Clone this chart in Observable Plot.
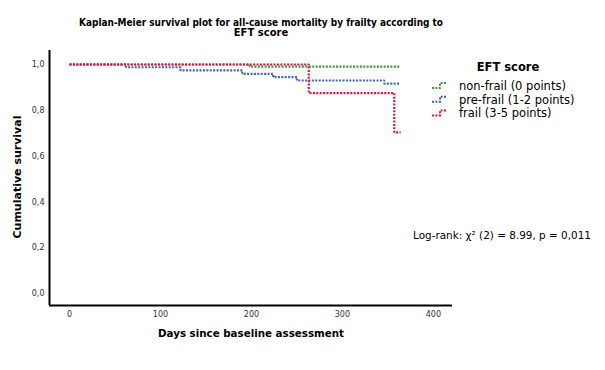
<!DOCTYPE html>
<html><head><meta charset="utf-8">
<script src="https://cdn.jsdelivr.net/npm/d3@7"></script>
<script src="https://cdn.jsdelivr.net/npm/@observablehq/plot@0.6"></script>
<style>body{margin:0;background:#fff} svg{display:block}</style>
</head><body><div id="chart"></div>
<script>
const titleLines = ["Kaplan-Meier survival plot for all-cause mortality by frailty according to", "EFT score"];
const xLabel = "Days since baseline assessment";
const yLabel = "Cumulative survival";
const legendTitle = "EFT score";
const groups = ["non-frail (0 points)", "pre-frail (1-2 points)", "frail (3-5 points)"];
const colors = ["#3a9a3a", "#4262c0", "#e2123e"];
const xTicks = [0, 100, 200, 300, 400];
const yTicks = [0, 0.2, 0.4, 0.6, 0.8, 1.0];
const note = "Log-rank: χ² (2) = 8.99, p = 0,011";

const nonFrailDays = [0, 198, 364];
const nonFrailSurv = [1, 0.991, 0.991];
const preFrailDays = [0, 62, 122, 190, 224, 250, 346, 363];
const preFrailSurv = [1, 0.988, 0.974, 0.959, 0.945, 0.930, 0.916, 0.916];
const frailDays = [0, 263, 357, 364];
const frailSurv = [1, 0.875, 0.704, 0.704];

const series = [[nonFrailDays, nonFrailSurv], [preFrailDays, preFrailSurv], [frailDays, frailSurv]];
const rows = series.flatMap(([d, s], i) => d.map((day, j) => ({day, surv: s[j], group: groups[i]})));

const xMin = -22, xMax = 421, yMin = -0.052, yMax = 1.061;
const font = "DejaVu Sans";
const dash = "2,1.4";

const plot = Plot.plot({
  width: 605, height: 370,
  marginTop: 50, marginLeft: 49, marginRight: 153, marginBottom: 65,
  x: {domain: [xMin, xMax]},
  y: {domain: [yMin, yMax]},
  color: {domain: groups, range: colors},
  style: {fontFamily: font, fontSize: "8px", color: "#333", background: "#fff"},
  marks: [
    Plot.axisX({ticks: xTicks, tickSize: 0, tickPadding: 6, label: null}),
    Plot.axisY({ticks: yTicks, tickSize: 0, tickPadding: 5, label: null, tickFormat: d => d3.format(".1f")(d).replace(".", ",")}),
    Plot.line(rows, {x: "day", y: "surv", z: "group", stroke: "group", curve: "step-after", strokeWidth: 2.2, strokeDasharray: dash, strokeLinecap: "butt", strokeLinejoin: "miter"}),
    Plot.ruleX([xMin], {stroke: "#000", strokeWidth: 2}),
    Plot.ruleY([yMin], {stroke: "#000", strokeWidth: 2})
  ]
});

const svg = d3.select(plot);
const t = svg.append("g").attr("font-family", font).attr("fill", "#000").attr("text-anchor", "start");
t.selectAll("text.title").data(titleLines).join("text")
  .attr("x", 261).attr("y", (d, i) => 26 + i * 10)
  .attr("text-anchor", "middle").attr("font-weight", "bold").attr("font-size", 10)
  .attr("textLength", (d, i) => i === 0 ? 364 : null).attr("lengthAdjust", "spacingAndGlyphs")
  .text(d => d);
t.append("text").attr("x", 251).attr("y", 337).attr("text-anchor", "middle")
  .attr("font-weight", "bold").attr("font-size", 11)
  .attr("textLength", 186).attr("lengthAdjust", "spacingAndGlyphs").text(xLabel);
t.append("text").attr("transform", "translate(21,177) rotate(-90)").attr("text-anchor", "middle")
  .attr("font-weight", "bold").attr("font-size", 11).text(yLabel);
t.append("text").attr("x", 508).attr("y", 71).attr("text-anchor", "middle")
  .attr("font-weight", "bold").attr("font-size", 11.5).text(legendTitle);
const lg = t.selectAll("g.item").data(groups).join("g").attr("transform", (d, i) => `translate(0,${86 + i * 13.7})`);
lg.append("path").attr("d", "M432,2H440V-3H447").attr("fill", "none")
  .attr("stroke", (d, i) => colors[i]).attr("stroke-width", 2).attr("stroke-dasharray", dash);
lg.append("text").attr("x", 459).attr("y", 0).attr("dy", "0.35em").attr("font-size", 11.5).text(d => d);
t.append("text").attr("x", 413).attr("y", 235).attr("dy", "0.35em").attr("font-size", 10)
  .attr("textLength", 178).attr("lengthAdjust", "spacingAndGlyphs").text(note);

document.getElementById("chart").appendChild(plot);
</script>
</body></html>
